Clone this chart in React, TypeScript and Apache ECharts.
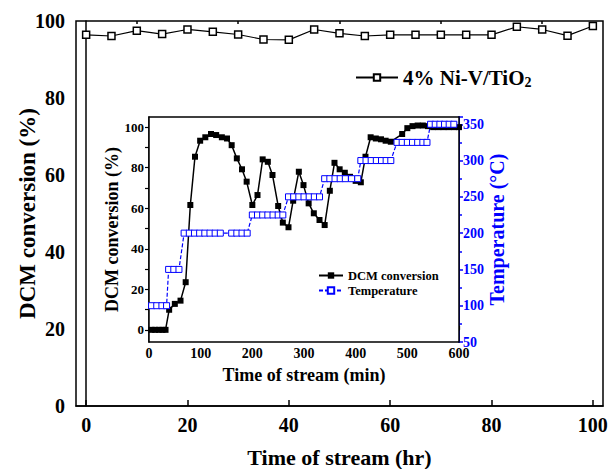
import React, { useEffect, useRef } from "react";
import * as echarts from "echarts";

const FONT = "'Liberation Serif', 'Times New Roman', serif";
const BLUE = "#0000ff";

// Main chart: time on stream (hr) vs DCM conversion (%)
const mainHours = [0, 5, 10, 15, 20, 25, 30, 35, 40, 45, 50, 55, 60, 65, 70, 75, 80, 85, 90, 95, 100];
const mainConversion = [96.4, 96.1, 97.5, 96.6, 97.8, 97.2, 96.5, 95.2, 95.1, 97.8, 96.8, 96.1, 96.4, 96.4, 96.4, 96.4, 96.4, 98.5, 97.8, 96.2, 98.7];
const mainXLabels = [0, 20, 40, 60, 80, 100];
const mainXMinor = [10, 30, 50, 70, 90];

// Inset: time on stream (min) vs DCM conversion (%) and temperature (°C)
const dcmMinutes = [5, 12, 19, 26, 32, 39, 50, 61, 71, 80, 89, 99, 109, 120, 130, 141, 151, 160, 170, 180, 189, 200, 210, 220, 230, 239, 250, 259, 270, 279, 290, 299, 309, 319, 330, 340, 350, 359, 369, 379, 389, 400, 410, 419, 429, 439, 449, 458, 468, 490, 500, 510, 520, 530, 540, 550, 560, 570, 580, 590, 600];
const dcmValues = [0, 0, 0, 0, 0, 9.9, 12.8, 14.4, 23.5, 61.6, 85.4, 93.3, 95, 96.6, 96.1, 95, 94.4, 91.1, 84.6, 79.2, 73.1, 61.6, 66.5, 84.1, 82.9, 76.4, 61.1, 52.9, 50.6, 63.7, 78, 71.4, 62.4, 57.5, 54.2, 51.7, 68.6, 82.4, 79.2, 77.5, 75.5, 73.5, 72.8, 85.4, 95, 94.4, 94, 93.3, 92.8, 96.6, 99.5, 100.5, 100.8, 100.8, 100.5, 100, 100, 100, 100, 100, 100];

const tempMinutes = [5, 15, 25, 34, 38, 48, 58, 68, 78, 88, 98, 108, 118, 128, 138, 160, 170, 180, 190, 200, 210, 220, 230, 240, 250, 259, 270, 280, 290, 300, 310, 320, 330, 340, 350, 360, 370, 380, 392, 404, 410, 420, 430, 440, 450, 459, 468, 480, 490, 500, 510, 520, 530, 538, 545, 554, 563, 572, 581, 590];
const tempValues = [100, 100, 100, 100, 150, 150, 150, 200, 200, 200, 200, 200, 200, 200, 200, 200, 200, 200, 200, 225, 225, 225, 225, 225, 225, 225, 250, 250, 250, 250, 250, 250, 250, 275, 275, 275, 275, 275, 275, 275, 300, 300, 300, 300, 300, 300, 300, 325, 325, 325, 325, 325, 325, 325, 350, 350, 350, 350, 350, 350];

const insetLeftLabels = [0, 20, 40, 60, 80, 100];
const insetLeftTicks = [0, 10, 20, 30, 40, 50, 60, 70, 80, 90, 100];

export default function App() {
  const ref = useRef<HTMLDivElement>(null);
  useEffect(() => {
    if (!ref.current) return;
    const chart = echarts.init(ref.current, null, { renderer: "svg" });
    const bold = { fontFamily: FONT, fontWeight: "bold" as const, color: "#000" };
    chart.setOption({
      animation: false,
      backgroundColor: "#fff",
      grid: [
        { left: 76, top: 21, right: 7, bottom: 63, show: true, borderColor: "#000", borderWidth: 1.5, backgroundColor: "#fff", outerBoundsMode: "none", containLabel: false },
        { left: 149, top: 117, right: 151, bottom: 127, show: true, borderColor: "#000", borderWidth: 1.5, backgroundColor: "#fff", z: 5, outerBoundsMode: "none", containLabel: false },
      ],
      legend: [
        {
          data: ["main"],
          left: 350,
          top: 62,
          z: 10,
          itemWidth: 42,
          itemHeight: 8,
          formatter: () => "4% Ni-V/TiO{sub|2}",
          textStyle: {
            ...bold,
            fontSize: 21,
            rich: { sub: { ...bold, fontSize: 14, verticalAlign: "bottom", padding: [10, 0, 0, 0] } },
          },
        },
        {
          data: ["DCM conversion", "Temperature"],
          orient: "vertical",
          left: 313,
          top: 264,
          z: 10,
          itemWidth: 24,
          itemHeight: 8,
          itemGap: 2,
          textStyle: { ...bold, fontSize: 12.5 },
        },
      ],
      xAxis: [
        {
          gridIndex: 0,
          type: "value",
          min: -2,
          max: 102,
          name: "Time of stream (hr)",
          nameLocation: "middle",
          nameGap: 40,
          nameMoveOverlap: false,
          nameTextStyle: { ...bold, fontSize: 22 },
          axisLine: { lineStyle: { color: "#000", width: 1.5 } },
          axisTick: { inside: true, length: 6, customValues: mainXLabels, lineStyle: { width: 1.5 } },
          axisLabel: { ...bold, fontSize: 20, margin: 9, customValues: mainXLabels },
          splitLine: { show: false },
        },
        {
          gridIndex: 0,
          type: "value",
          min: -2,
          max: 102,
          axisLine: { show: false },
          axisTick: { inside: true, length: 3, customValues: mainXMinor, lineStyle: { width: 1.5, color: "#000" } },
          axisLabel: { show: false },
          splitLine: { show: false },
        },
        {
          gridIndex: 1,
          type: "value",
          min: 0,
          max: 600,
          interval: 100,
          name: "Time of stream (min)",
          nameLocation: "middle",
          nameGap: 24,
          nameMoveOverlap: false,
          nameTextStyle: { ...bold, fontSize: 18 },
          axisLine: { lineStyle: { color: "#000", width: 1.5 } },
          axisTick: { inside: true, length: 4, lineStyle: { width: 1.2 } },
          minorTick: { show: true, splitNumber: 2, length: 2, lineStyle: { color: "#000", width: 1.2 } },
          axisLabel: { ...bold, fontSize: 14, margin: 4 },
          splitLine: { show: false },
          minorSplitLine: { show: false },
        },
      ],
      yAxis: [
        {
          gridIndex: 0,
          type: "value",
          min: 0,
          max: 100,
          interval: 20,
          name: "DCM conversion (%)",
          nameLocation: "middle",
          nameGap: 37,
          nameMoveOverlap: false,
          nameTextStyle: { ...bold, fontSize: 23 },
          axisLine: { lineStyle: { color: "#000", width: 1.5 } },
          axisTick: { show: false },
          axisLabel: { ...bold, fontSize: 20, margin: 11 },
          splitLine: { show: false },
        },
        {
          gridIndex: 1,
          type: "value",
          min: -6,
          max: 105,
          name: "DCM conversion (%)",
          nameLocation: "middle",
          nameGap: 28,
          nameMoveOverlap: false,
          nameTextStyle: { ...bold, fontSize: 18 },
          axisLine: { lineStyle: { color: "#000", width: 1.5 } },
          axisTick: { inside: false, length: 4, customValues: insetLeftTicks, lineStyle: { width: 1.2 } },
          axisLabel: { ...bold, fontSize: 13, margin: 5, customValues: insetLeftLabels },
          splitLine: { show: false },
        },
        {
          gridIndex: 1,
          type: "value",
          position: "right",
          min: 50,
          max: 360,
          interval: 50,
          name: "Temperature (°C)",
          nameLocation: "middle",
          nameGap: 28,
          nameRotate: 90,
          nameMoveOverlap: false,
          nameTextStyle: { ...bold, fontSize: 20, color: BLUE },
          axisLine: { show: true, lineStyle: { color: BLUE, width: 2 } },
          axisTick: { show: true, inside: false, length: 4, lineStyle: { color: BLUE, width: 1.5 } },
          minorTick: { show: true, splitNumber: 2, length: 3, lineStyle: { color: BLUE, width: 1.5 } },
          axisLabel: { ...bold, fontSize: 14, margin: 4, color: BLUE },
          splitLine: { show: false },
          minorSplitLine: { show: false },
        },
      ],
      series: [
        {
          name: "main",
          type: "line",
          xAxisIndex: 0,
          yAxisIndex: 0,
          data: mainHours.map((h, i) => [h, mainConversion[i]]),
          symbol: "rect",
          symbolSize: 7,
          itemStyle: { color: "#fff", borderColor: "#000", borderWidth: 1.5 },
          lineStyle: { color: "#000", width: 1.2 },
        },
        {
          name: "DCM conversion",
          type: "line",
          xAxisIndex: 2,
          yAxisIndex: 1,
          z: 6,
          data: dcmMinutes.map((m, i) => [m, dcmValues[i]]),
          symbol: "rect",
          symbolSize: 6,
          itemStyle: { color: "#000", borderColor: "#000", borderWidth: 0 },
          lineStyle: { color: "#000", width: 1.5 },
        },
        {
          name: "Temperature",
          type: "line",
          xAxisIndex: 2,
          yAxisIndex: 2,
          z: 6,
          data: tempMinutes.map((m, i) => [m, tempValues[i]]),
          symbol: "rect",
          symbolSize: 6,
          itemStyle: { color: "#fff", borderColor: BLUE, borderWidth: 1 },
          lineStyle: { color: BLUE, width: 1.2, type: [4, 2] },
        },
      ],
    });
    return () => chart.dispose();
  }, []);
  return <div ref={ref} style={{ position: "fixed", left: 0, top: 0, width: 610, height: 469 }} />;
}
